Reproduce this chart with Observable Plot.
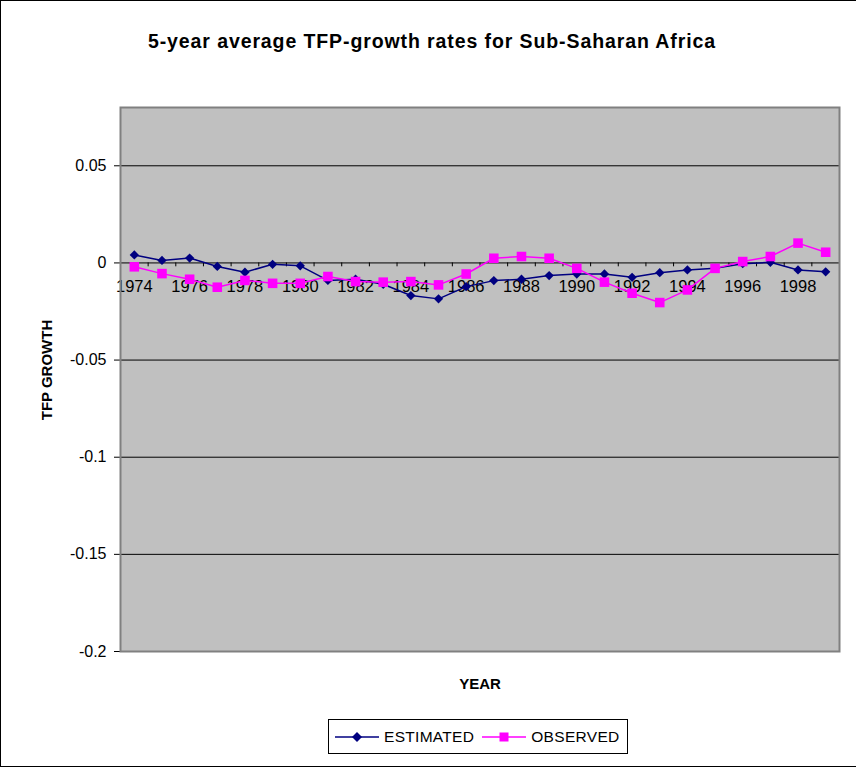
<!DOCTYPE html>
<html>
<head>
<meta charset="utf-8">
<script src="https://cdn.jsdelivr.net/npm/d3@7"></script>
<script src="https://cdn.jsdelivr.net/npm/@observablehq/plot@0.6"></script>
<style>
  html, body { margin: 0; padding: 0; background: #fff; }
  #wrap { position: relative; width: 856px; height: 768px; font-family: "Liberation Sans", Arial, sans-serif; }
  #border { position: absolute; left: 0; top: 0; width: 856px; height: 767px; border-left: 1.5px solid #000; border-top: 1.5px solid #000; border-bottom: 1.5px solid #000; box-sizing: border-box; pointer-events: none; }
  #title { position: absolute; left: 0; width: 864px; top: 30px; text-align: center; font-weight: bold; font-size: 19.5px; letter-spacing: 0.9px; }
  #ylab { position: absolute; left: 46px; top: 370px; transform: translate(-50%, -50%) rotate(-90deg); font-weight: bold; font-size: 15px; white-space: nowrap; }
  #xlab { position: absolute; left: 480px; top: 683px; transform: translate(-50%, -50%); font-weight: bold; font-size: 15px; }
  #legend { position: absolute; left: 328px; top: 719px; width: 300px; height: 35px; border: 1px solid #000; box-sizing: border-box; background: #fff; display: flex; align-items: center; font-size: 15.5px; letter-spacing: 0.3px; }
  #legend .item { display: flex; align-items: center; }
  #chart { position: absolute; left: 0; top: 0; }
</style>
</head>
<body>
<div id="wrap">
  <div id="chart"></div>
  <div id="title">5-year average TFP-growth rates for Sub-Saharan Africa</div>
  <div id="ylab">TFP GROWTH</div>
  <div id="xlab">YEAR</div>
  <div id="legend"></div>
  <div id="border"></div>
</div>
<script>
const years = [1974,1975,1976,1977,1978,1979,1980,1981,1982,1983,1984,1985,1986,1987,1988,1989,1990,1991,1992,1993,1994,1995,1996,1997,1998,1999];
const estimated = [0.0041,0.0013,0.0025,-0.0018,-0.0048,-0.0007,-0.0015,-0.0090,-0.0084,-0.0110,-0.0168,-0.0185,-0.0122,-0.0091,-0.0084,-0.0065,-0.0057,-0.0057,-0.0074,-0.0050,-0.0036,-0.0028,-0.0004,0.0003,-0.0036,-0.0046];
const observed = [-0.0020,-0.0055,-0.0084,-0.0125,-0.0090,-0.0105,-0.0105,-0.0070,-0.0096,-0.0099,-0.0096,-0.0113,-0.0057,0.0024,0.0033,0.0024,-0.0028,-0.0099,-0.0156,-0.0204,-0.0139,-0.0028,0.0007,0.0033,0.0102,0.0055];
const yTicks = [-0.2,-0.15,-0.1,-0.05,0,0.05];
const xTickLabels = [1974,1976,1978,1980,1982,1984,1986,1988,1990,1992,1994,1996,1998];
const seriesNames = ["ESTIMATED","OBSERVED"];
const colors = {ESTIMATED: "#000080", OBSERVED: "#FF00FF"};

const estData = years.map((y, i) => ({year: y, value: estimated[i]}));
const obsData = years.map((y, i) => ({year: y, value: observed[i]}));
const boundaries = years.map(y => y - 0.5).concat([years[years.length - 1] + 0.5]);

const plot = Plot.plot({
  width: 856,
  height: 768,
  marginLeft: 120,
  marginRight: 17,
  marginTop: 107,
  marginBottom: 117,
  style: {fontFamily: "'Liberation Sans', Arial, sans-serif", fontSize: "16px", background: "transparent", overflow: "visible"},
  x: {type: "linear", domain: [years[0] - 0.5, years[years.length - 1] + 0.5], axis: null},
  y: {domain: [-0.2, 0.08], ticks: yTicks, tickFormat: d => String(d), tickSize: 6, tickPadding: 8, label: null},
  marks: [
    Plot.frame({fill: "#C0C0C0", stroke: "none"}),
    Plot.ruleY(yTicks, {stroke: "#000", strokeWidth: 1}),
    Plot.ruleX(boundaries, {x: d => d, y1: 0, y2: -0.002, stroke: "#000", strokeWidth: 1}),
    Plot.text(xTickLabels, {x: d => d, y: 0, text: d => String(d), dy: 24, fill: "#000", fontSize: 16.5}),
    Plot.frame({stroke: "#808080", strokeWidth: 2}),
    Plot.line(estData, {x: "year", y: "value", stroke: colors.ESTIMATED, strokeWidth: 1.5}),
    Plot.dot(estData, {x: "year", y: "value", symbol: "diamond2", r: 4.2, fill: colors.ESTIMATED, stroke: "none"}),
    Plot.line(obsData, {x: "year", y: "value", stroke: colors.OBSERVED, strokeWidth: 1.5}),
    Plot.dot(obsData, {x: "year", y: "value", symbol: "square", r: 5.4, fill: colors.OBSERVED, stroke: "none"})
  ]
});
document.getElementById("chart").appendChild(plot);

// Legend
const legend = document.getElementById("legend");
seriesNames.forEach((name, i) => {
  const item = document.createElement("div");
  item.className = "item";
  item.style.marginLeft = i === 0 ? "6px" : "8px";
  const sym = name === "ESTIMATED"
    ? `<path d="M22,3 L27,8 L22,13 L17,8 Z" fill="${colors[name]}"/>`
    : `<rect x="17.5" y="3.5" width="9" height="9" fill="${colors[name]}"/>`;
  item.innerHTML = `<svg width="44" height="16" style="margin-right:5px"><line x1="0" y1="8" x2="44" y2="8" stroke="${colors[name]}" stroke-width="1.5"/>${sym}</svg><span>${name}</span>`;
  legend.appendChild(item);
});
</script>
</body>
</html>
